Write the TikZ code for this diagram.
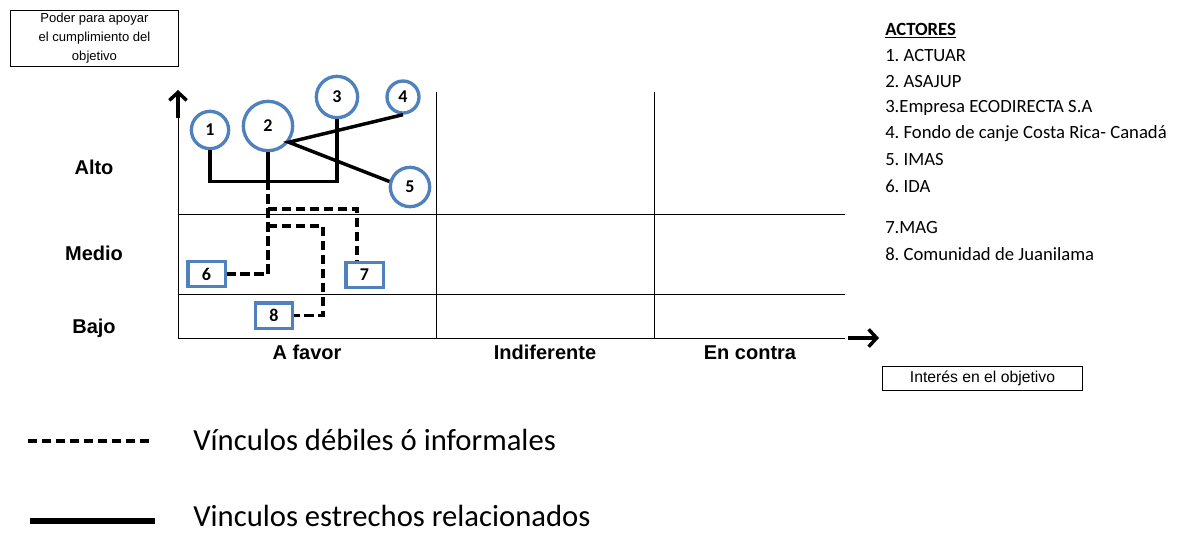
\documentclass[tikz,border=0pt]{standalone}
\usepackage{fontspec}
\setmainfont{Liberation Sans}
\newfontfamily\calibri{Carlito}
\usepackage{xcolor}
\usetikzlibrary{arrows.meta}
\definecolor{actorblue}{RGB}{79,129,189}
\frenchspacing

\begin{document}
\begin{tikzpicture}[x=0.75pt,y=-0.75pt,
		grid/.style={line width=0.75pt},
		axistip/.style={line width=2.6pt,-{Straight Barb[length=6pt,width=13pt,line width=2.6pt]}},
		actor/.style={circle,draw=actorblue,line width=2.5pt,fill=white,inner sep=0pt,
			font=\calibri\bfseries\fontsize{13.5}{13.5}\selectfont},
		actorbox/.style={rectangle,draw=actorblue,line width=2.5pt,fill=white,inner sep=0pt,
			minimum width=28pt,minimum height=19pt,font=\calibri\bfseries\fontsize{13.5}{13.5}\selectfont},
		strong/.style={line width=2.6pt},
		weak/.style={line width=2.6pt,dash pattern=on 7pt off 3.5pt},
		level/.style={font=\bfseries\fontsize{15}{15}\selectfont,text height=11pt,text depth=0pt},
		axisbox/.style={draw,line width=0.75pt,align=center,inner sep=0pt},
		listitem/.style={anchor=west,inner sep=0pt,font=\calibri\fontsize{14}{14}\selectfont},
		legend/.style={anchor=west,inner sep=0pt,font=\calibri\fontsize{23}{23}\selectfont}]
	\useasboundingbox (0,0) rectangle (1177,533);
	
	% etiquetas de los ejes
	\node[axisbox,minimum width=126pt,minimum height=42.5pt,
	font=\fontsize{9.8}{14.25}\selectfont] (poder) at (94.5,38.5)
	{Poder para apoyar\\el cumplimiento del\\objetivo};
	\node[axisbox,minimum width=150pt,minimum height=18pt,
	font=\fontsize{11.8}{12}\selectfont] (interes) at (982.5,378) {Interés en el objetivo};
	
	% ejes y cuadricula
	\coordinate (o) at (178,338);
	\coordinate (ytop) at (178,118);
	\coordinate (xend) at (845,338);
	\draw[grid] (o) -- (ytop);
	\draw[axistip] (ytop) -- ++(0,-28);
	\draw[grid] (o) -- (xend);
	\draw[axistip] (xend) ++(3,0) -- ++(31,0);
	\draw[grid] (178,214) -- (845,214);
	\draw[grid] (178,294) -- (845,294);
	\draw[grid] (436,92) -- (436,338);
	\draw[grid] (654,92) -- (654,338);
	
	\node[level] (alto) at (94,167) {Alto};
	\node[level] (medio) at (94,253) {Medio};
	\node[level] (bajo) at (94,326) {Bajo};
	\node[level] (favor) at (307,352) {A favor};
	\node[level] (indif) at (545,352) {Indiferente};
	\node[level] (contra) at (750,352) {En contra};
	
	% actores
	\node[actor,minimum size=28pt] (a1) at (210,130) {1};
	\node[actor,minimum size=37pt] (a2) at (268,126) {2};
	\node[actor,minimum size=31pt] (a3) at (337,97) {3};
	\node[actor,minimum size=24pt] (a4) at (403,97) {4};
	\node[actor,minimum size=29.5pt] (a5) at (410,187) {5};
	\node[actorbox] (a6) at (206.5,274) {6};
	\node[actorbox] (a7) at (364.5,275) {7};
	\node[actorbox] (a8) at (274,315.5) {8};
	
	% vinculos estrechos
	\draw[strong] (a1.south) -- ++(0,31) -| (a3.south);
	\draw[strong] (a2.south) -- ++(0,30);
	\draw[strong] (a4.south) -- (a2.-38) -- (a5.165);
	
	% vinculos debiles
	\coordinate (k7) at (357,209);
	\coordinate (k8) at (323,226);
	\draw[weak] (a2.south) |- (a6.east);
	\draw[weak] (a2.south |- k7) -- (k7) -- (k7 |- a7.north);
	\draw[weak] (a2.south |- k8) -- (k8) |- (a8.east);
	
	% lista de actores
	\node[listitem] (actores) at (885,31) {\underline{\textbf{ACTORES}}};
	\foreach \n/\y/\t in {1/56/1. ACTUAR, 2/82/2. ASAJUP, 3/108/3.Empresa ECODIRECTA S.A,
		4/134/4. Fondo de canje Costa Rica- Canadá, 5/160/5. IMAS, 6/186/6. IDA,
		7/228/7.MAG, 8/254/8. Comunidad de Juanilama}
	\node[listitem] (act\n) at (885,\y) {\t};
	
	% leyenda
	\coordinate (ld1) at (28,441);
	\coordinate (ld2) at (152,441);
	\coordinate (ls1) at (30,521);
	\coordinate (ls2) at (155,521);
	\draw[weak,line width=3.2pt] (ld1) -- (ld2);
	\draw[strong,line width=3.8pt] (ls1) -- (ls2);
	\node[legend] (debil) at (193,440) {Vínculos débiles ó informales};
	\node[legend] (estrecho) at (193,516) {Vinculos estrechos relacionados};
\end{tikzpicture}
\end{document}
